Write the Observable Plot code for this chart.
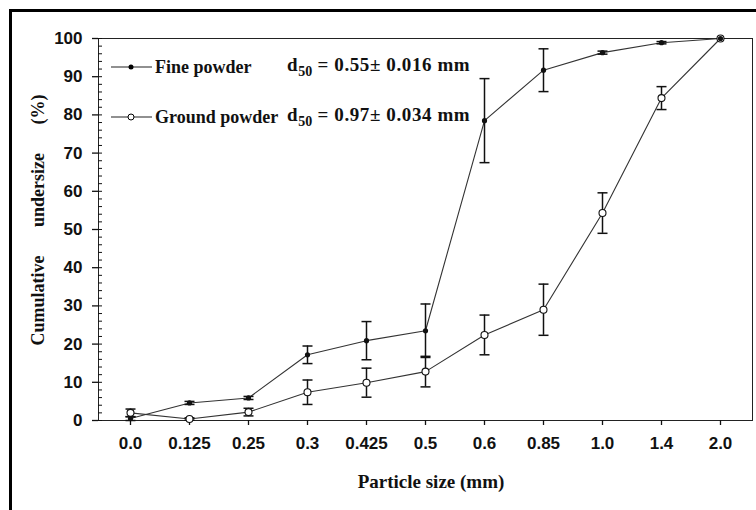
<!DOCTYPE html>
<html>
<head>
<meta charset="utf-8">
<script src="https://cdn.jsdelivr.net/npm/d3@7"></script>
<script src="https://cdn.jsdelivr.net/npm/@observablehq/plot@0.6"></script>
<style>
  html, body { margin: 0; padding: 0; background: #fff; }
  #wrap { position: relative; width: 756px; height: 510px; overflow: hidden; }
  #outer { position: absolute; left: 9px; top: 9px; width: 800px; height: 600px;
           border-left: 3px solid #000; border-top: 3px solid #000; pointer-events: none; }
  .serif { font-family: "Liberation Serif", "Times New Roman", serif; font-weight: bold; color: #111; }
  #ytitle { position: absolute; left: 38px; top: 220px; transform: translate(-50%, -50%) rotate(-90deg);
            white-space: pre; font-size: 18px; word-spacing: 24px; }
  #xtitle { position: absolute; left: 431px; top: 482px; transform: translate(-50%, -50%);
            font-size: 19px; white-space: nowrap; }
  .leg { position: absolute; left: 109px; height: 24px; display: flex; align-items: center; white-space: nowrap; }
  .leg svg { display: block; }
  .leg .name { font-size: 18px; margin-left: 1px; }
  .d50 { position: absolute; left: 287px; font-size: 19px; letter-spacing: 0.6px; white-space: nowrap; transform: translateY(-50%); }
  .d50 sub { font-size: 14px; vertical-align: -5px; letter-spacing: 0; }
</style>
</head>
<body>
<div id="wrap">
  <div id="chart"></div>
  <div id="outer"></div>
  <div id="ytitle" class="serif">Cumulative undersize (%)</div>
  <div id="xtitle" class="serif">Particle size (mm)</div>
  <div class="leg serif" style="top:55px">
    <svg width="45" height="24"><line x1="2" y1="12" x2="43" y2="12" stroke="#222" stroke-width="1.2"/><circle cx="22" cy="12" r="2.5" fill="#000"/></svg>
    <span class="name">Fine powder</span>
  </div>
  <div class="leg serif" style="top:105px">
    <svg width="45" height="24"><line x1="2" y1="12" x2="43" y2="12" stroke="#222" stroke-width="1.2"/><circle cx="22" cy="12" r="3" fill="#fff" stroke="#000" stroke-width="1"/></svg>
    <span class="name">Ground powder</span>
  </div>
  <div class="d50 serif" style="top:67px">d<sub>50</sub> = 0.55± 0.016 mm</div>
  <div class="d50 serif" style="top:117px">d<sub>50</sub> = 0.97± 0.034 mm</div>
</div>
<script>
// ---- data ----
const categories = ["0.0","0.125","0.25","0.3","0.425","0.5","0.6","0.85","1.0","1.4","2.0"];
const fineValues   = [0.5, 4.6, 5.9, 17.2, 20.9, 23.5, 78.5, 91.7, 96.3, 98.9, 100];
const fineErrors   = [0.5, 0.4, 0.4, 2.3,  5.0,  7.0,  11.0, 5.6,  0.4,  0.3,  0];
const groundValues = [2.0, 0.4, 2.2, 7.4,  9.9,  12.8, 22.4, 29.0, 54.3, 84.4, 100];
const groundErrors = [1.0, 0.3, 1.0, 3.2,  3.8,  4.0,  5.2,  6.7,  5.3,  3.0,  0];
const yTicks = [0,10,20,30,40,50,60,70,80,90,100];
const yMinorTicks = d3.range(0, 101, 2);

const fine = categories.map((c, i) => ({size: c, v: fineValues[i], e: fineErrors[i]}));
const ground = categories.map((c, i) => ({size: c, v: groundValues[i], e: groundErrors[i]}));

// horizontal cap symbol for error bars
const cap = { draw(ctx) { ctx.moveTo(-5, 0); ctx.lineTo(5, 0); } };

function errMarks(data) {
  const d = data.filter(r => r.e > 0);
  return [
    Plot.ruleX(d, {x: "size", y1: r => r.v - r.e, y2: r => r.v + r.e, stroke: "#111", strokeWidth: 1.5}),
    Plot.dot(d, {x: "size", y: r => r.v + r.e, symbol: cap, stroke: "#111", strokeWidth: 1.5, fill: "none"}),
    Plot.dot(d, {x: "size", y: r => r.v - r.e, symbol: cap, stroke: "#111", strokeWidth: 1.5, fill: "none"})
  ];
}

const chart = Plot.plot({
  width: 756,
  height: 510,
  marginLeft: 98,
  marginTop: 38,
  marginRight: 4,
  marginBottom: 90,
  style: {fontFamily: "Liberation Sans, Arial, sans-serif", fontSize: "17px", fontWeight: "bold", color: "#111", background: "transparent", overflow: "visible"},
  x: {type: "point", domain: categories, padding: 0.5, label: null},
  y: {domain: [0, 100], label: null},
  marks: [
    Plot.frame({stroke: "#222", strokeWidth: 1}),
    Plot.axisY(yTicks, {tickSize: 6, tickPadding: 10, tickFormat: d => d, strokeWidth: 1.3, fontSize: 17}),
    Plot.axisY(yMinorTicks, {tickSize: -4, tickFormat: () => "", strokeWidth: 1}),
    Plot.axisX(categories, {tickSize: 5, tickPadding: 11, strokeWidth: 1.3, fontSize: 17}),
    Plot.line(ground, {x: "size", y: "v", stroke: "#333", strokeWidth: 1.1}),
    Plot.line(fine, {x: "size", y: "v", stroke: "#333", strokeWidth: 1.1}),
    ...errMarks(ground),
    ...errMarks(fine),
    Plot.dot(ground, {x: "size", y: "v", r: 3.5, fill: "white", stroke: "#111", strokeWidth: 1.1}),
    Plot.dot(fine, {x: "size", y: "v", r: 2.6, fill: "#111"})
  ]
});
document.getElementById("chart").appendChild(chart);
</script>
</body>
</html>
